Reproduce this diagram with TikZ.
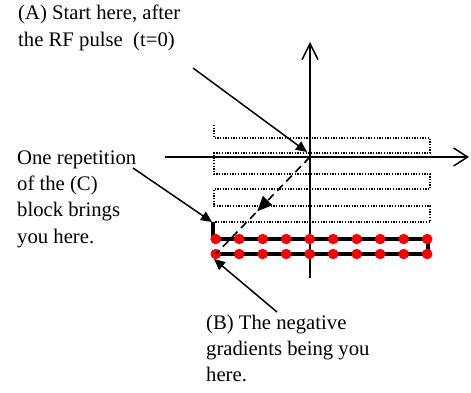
\documentclass[tikz,border=0pt]{standalone}
\usepackage{fontspec}
\setmainfont{Liberation Serif}
\usetikzlibrary{arrows.meta,decorations.markings}
\begin{document}
\begin{tikzpicture}[x=1pt,y=-1pt,
  axis/.style={line width=1.5pt},
  raster/.style={line width=1.3pt, dash pattern=on 1.3pt off 1.4pt},
  traj/.style={line width=3.5pt, line join=miter},
  sample/.style={circle, fill=red, draw=none, minimum size=10.5pt, inner sep=0pt},
  pointer/.style={line width=1.5pt, -{Triangle[length=11pt,width=10pt]}},
  label/.style={font=\fontsize{20.7}{26.3}\selectfont, align=left, anchor=base west, inner sep=0pt},
]
\useasboundingbox (0,0) rectangle (471,392);
% axes
\coordinate (ybot) at (310,278);
\coordinate (ytop) at (310,42);
\coordinate (xl) at (165,157);
\coordinate (xr) at (469,157);
\coordinate (O) at (310,157);
\draw[axis, -{Straight Barb[length=16pt,width=16pt]}] (ybot) -- (ytop);
\draw[axis, -{Straight Barb[length=14pt,width=18pt]}] (xl) -- (xr);
% dotted raster
\draw[raster] (214,125) -- (214,138) -- (430,138) -- (430,153) -- (214,153) -- (214,174)
  -- (430,174) -- (430,189) -- (214,189) -- (214,206) -- (430,206) -- (430,222) -- (214,222);
% solid trajectory
\draw[traj] (213,222) -- (213,239) -- (428,239) -- (428,254) -- (215,254);
% samples
\foreach \i in {0,...,9}{
  \node[sample] (a\i) at ({215.7+\i*23.5},239) {};
  \node[sample] (b\i) at ({215.7+\i*23.5},254) {};
}
% dashed jump
\draw[line width=1.6pt, dash pattern=on 8pt off 5pt,
  postaction={decorate},
  decoration={markings, mark=at position 0.56 with {\arrow{Triangle[length=15pt,width=13pt]}}}]
  (O) -- (b0.center);
% texts (base anchor = last line baseline)
\node[label, font=\fontsize{20.7}{27.5}\selectfont] (A) at (18,46.5) {(A) Start here, after\\the RF pulse~~(t=0)};
\node[label] (C) at (17,243) {One repetition\\of the (C)\\block brings\\you here.};
\node[label, font=\fontsize{20.7}{26.2}\selectfont] (B) at (206,381.5) {(B) The negative\\gradients being you\\here.};
% pointers
\coordinate (As) at (193,68);
\coordinate (Ae) at (307,152);
\coordinate (Cs) at (133,168);
\coordinate (Ce) at (212,222);
\coordinate (Bs) at (277,312);
\coordinate (Be) at (214,259);
\draw[pointer] (As) -- (Ae);
\draw[pointer] (Cs) -- (Ce);
\draw[pointer] (Bs) -- (Be);
\end{tikzpicture}
\end{document}
